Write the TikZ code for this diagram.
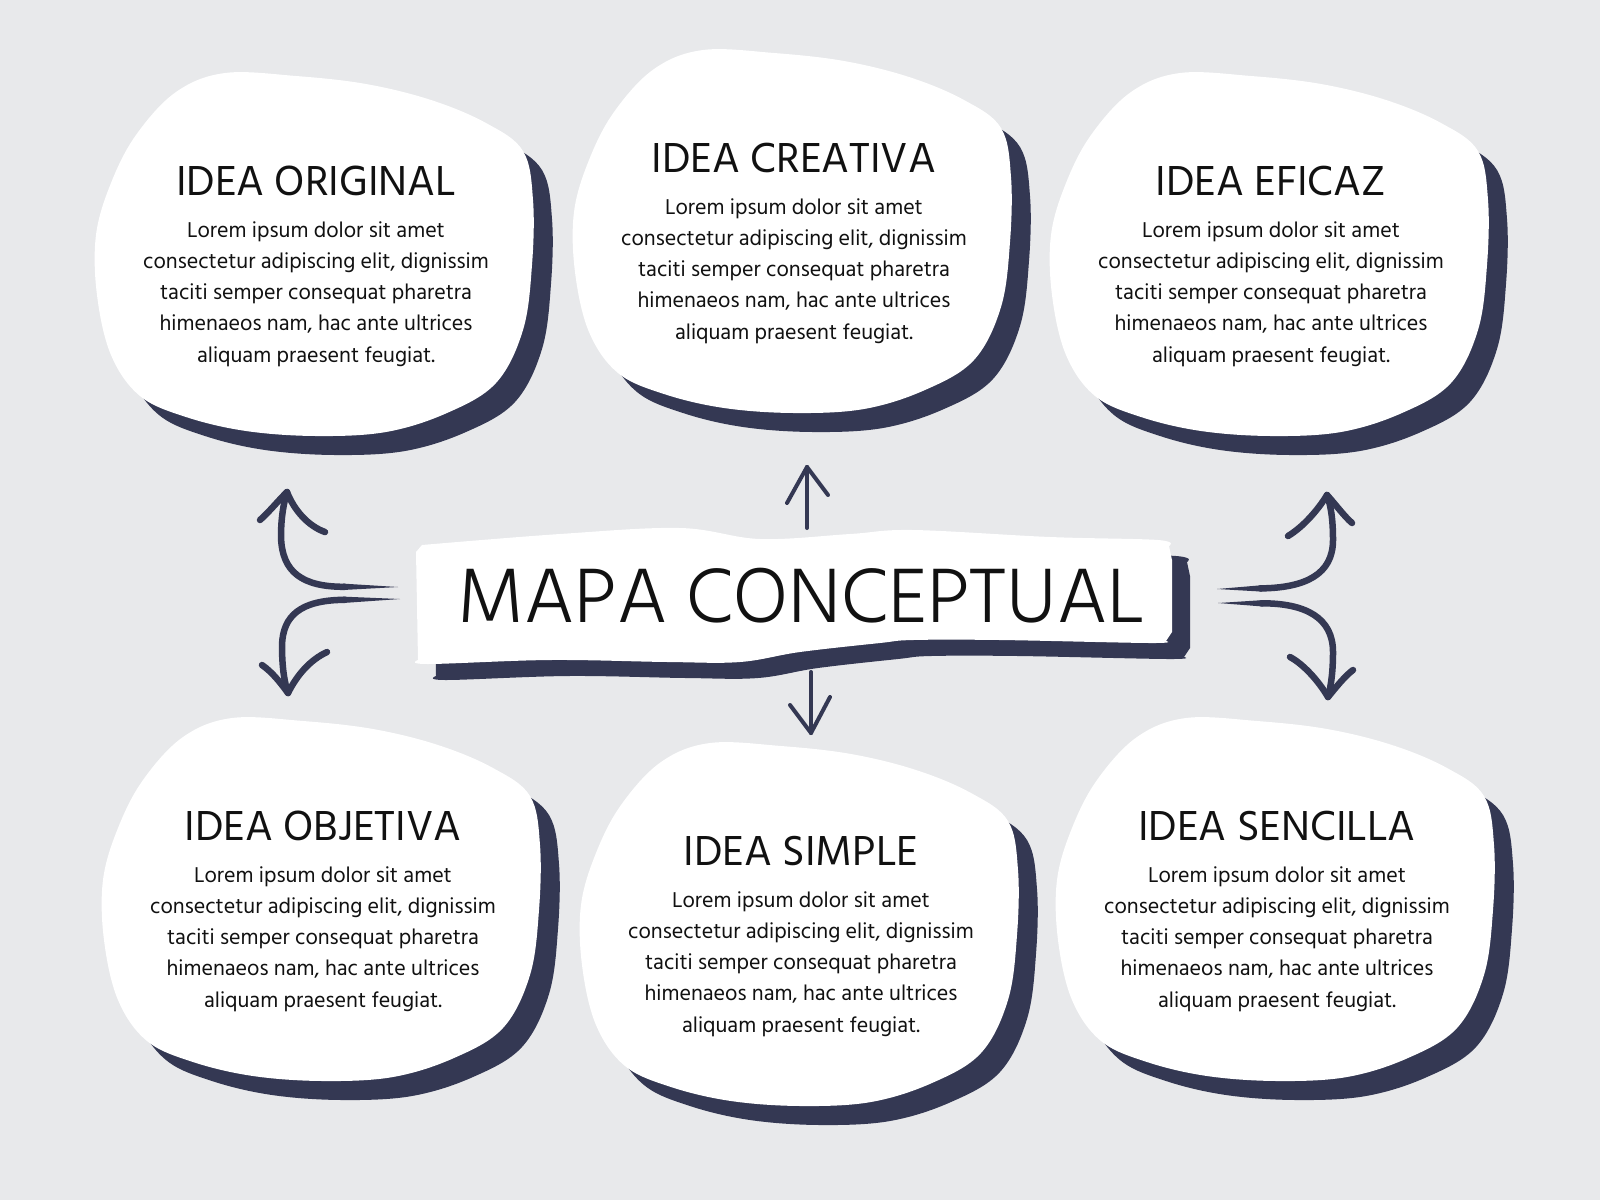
\documentclass[tikz,border=0pt]{standalone}
\usepackage{fontspec}
\setmainfont{Hind Madurai}
\IfFontExistsTF{Hind Madurai Light}{\newfontfamily\lightfont{Hind Madurai Light}}{\newfontfamily\lightfont{Hind Madurai}}
\usetikzlibrary{calc}
\definecolor{bg}{HTML}{E8E9EB}
\definecolor{navy}{HTML}{343853}
\definecolor{ink}{HTML}{111111}
\newcommand\blobfill[1]{\fill[#1] plot[smooth cycle, tension=0.6] coordinates {(-91,-122) (-20,-119) (50,-111) (115,-95) (170,-72) (207,-44) (217,5) (216,70) (207,135) (180,188) (131,218) (70,237) (0,241) (-70,236) (-130,222) (-176,201) (-205,160) (-219,100) (-220,40) (-205,-12) (-180,-60) (-140,-103)};}
\newcommand\ideablob[2]{%
  \begin{scope}[shift={(#1,#2)}]
    \blobfill{navy, shift={(19,19)}}
    \blobfill{white}
  \end{scope}}
\newcommand\lorem{Lorem ipsum dolor sit amet\\consectetur adipiscing elit, dignissim\\taciti semper consequat pharetra\\himenaeos nam, hac ante ultrices\\aliquam praesent feugiat.}
\tikzset{
  ttl/.style={anchor=base, inner sep=0pt, text=ink, font=\fontsize{43}{45}\selectfont},
  bodytext/.style={anchor=base, inner sep=0pt, align=center, text=ink, font=\fontsize{22}{31.3}\selectfont},
  brush/.style={draw=navy, line width=6.5pt, line cap=round, line join=round},
  thinbrush/.style={draw=navy, line width=4pt, line cap=round, line join=round},
}
\newcommand\boxpath{(416,552) -- plot[smooth, tension=0.6] coordinates {(422,545) (560,534) (680,528) (760,539) (850,534) (913,530) (1050,537) (1158,540) (1169,546)} -- (1172,560) -- (1172,632) -- plot[smooth, tension=0.6] coordinates {(1166,641) (1150,643) (1000,640) (913,640) (880,643) (800,652) (740,662) (668,662) (550,660) (428,664) (418,660)} -- cycle}
\begin{document}
\begin{tikzpicture}[x=1pt,y=-1pt]
\useasboundingbox (0,0) rectangle (1600,1200);
\fill[bg] (0,0) rectangle (1600,1200);

% idea blobs
\ideablob{316}{195}
\ideablob{794}{172}
\ideablob{1271}{195}
\ideablob{323}{840}
\ideablob{801}{865}
\ideablob{1277}{840}

% central box
\fill[navy, shift={(18,16)}] \boxpath;
\fill[white] \boxpath;
\node[anchor=base, inner sep=0pt, text=ink, font=\lightfont\fontsize{79}{80}\selectfont] (main) at (801,622) {MAPA CONCEPTUAL};

% texts (body anchored at the baseline of its last line)
\node[ttl] (t1) at (316,195) {IDEA ORIGINAL};
\node[bodytext] (b1) at (316,362.2) {\lorem};
\node[ttl] (t2) at (794,172) {IDEA CREATIVA};
\node[bodytext] (b2) at (794,339.2) {\lorem};
\node[ttl] (t3) at (1271,195) {IDEA EFICAZ};
\node[bodytext] (b3) at (1271,362.2) {\lorem};
\node[ttl] (t4) at (323,840) {IDEA OBJETIVA};
\node[bodytext] (b4) at (323,1007.2) {\lorem};
\node[ttl] (t5) at (801,865) {IDEA SIMPLE};
\node[bodytext] (b5) at (801,1032.2) {\lorem};
\node[ttl] (t6) at (1277,840) {IDEA SENCILLA};
\node[bodytext] (b6) at (1277,1007.2) {\lorem};

% arrow end points
\coordinate (ulS) at (398,587); \coordinate (ulT) at (287,492);
\coordinate (llS) at (400,599); \coordinate (llT) at (288,693);
\coordinate (urS) at (1217,589); \coordinate (urT) at (1327,495);
\coordinate (lrS) at (1218,603); \coordinate (lrT) at (1328,697);
\coordinate (tcS) at (807,528); \coordinate (tcT) at (807,467);
\coordinate (bcS) at (811,672); \coordinate (bcT) at (811,733);

% upper left
\fill[navy] (ulS) -- ($(ulS)+(-55,-3.4)$) -- ($(ulS)+(-55,3.0)$) -- cycle;
\draw[brush] ($(ulS)+(-53,-0.2)$) .. controls (302,587) and (282,572) .. (281,537) .. controls (281,516) and (284,502) .. (ulT);
\draw[brush] (ulT) .. controls (277,502) and (269,512) .. (260,520);
\draw[brush] (ulT) .. controls (294,510) and (308,526) .. (325,532);
% lower left
\fill[navy] (llS) -- ($(llS)+(-57,-2.4)$) -- ($(llS)+(-57,4.0)$) -- cycle;
\draw[brush] ($(llS)+(-55,0.8)$) .. controls (300,600) and (283,616) .. (282,645) .. controls (282,666) and (284,681) .. (llT);
\draw[brush] (llT) .. controls (280,682) and (272,672) .. (262,665);
\draw[brush] (llT) .. controls (297,675) and (310,660) .. (327,652);
% upper right
\fill[navy] (urS) -- ($(urS)+(45,-3.8)$) -- ($(urS)+(45,2.6)$) -- cycle;
\draw[brush] ($(urS)+(43,-0.6)$) .. controls (1306,588) and (1333,574) .. (1333,540) .. controls (1333,520) and (1331,506) .. (urT);
\draw[brush] (urT) .. controls (1318,510) and (1303,527) .. (1288,536);
\draw[brush] (urT) .. controls (1336,505) and (1344,516) .. (1352,523);
% lower right
\fill[navy] (lrS) -- ($(lrS)+(45,-2.9)$) -- ($(lrS)+(45,3.5)$) -- cycle;
\draw[brush] ($(lrS)+(43,0.3)$) .. controls (1306,603) and (1333,618) .. (1333,652) .. controls (1333,672) and (1331,686) .. (lrT);
\draw[brush] (lrT) .. controls (1318,680) and (1303,664) .. (1290,657);
\draw[brush] (lrT) .. controls (1337,686) and (1345,676) .. (1353,670);
% top centre
\draw[thinbrush] (tcS) -- (tcT);
\draw[thinbrush] (tcT) -- (787,503);
\draw[thinbrush] (tcT) -- (828,495);
% bottom centre
\draw[thinbrush] (bcS) -- (bcT);
\draw[thinbrush] (bcT) -- (790,705);
\draw[thinbrush] (bcT) -- (830,697);
\end{tikzpicture}
\end{document}
